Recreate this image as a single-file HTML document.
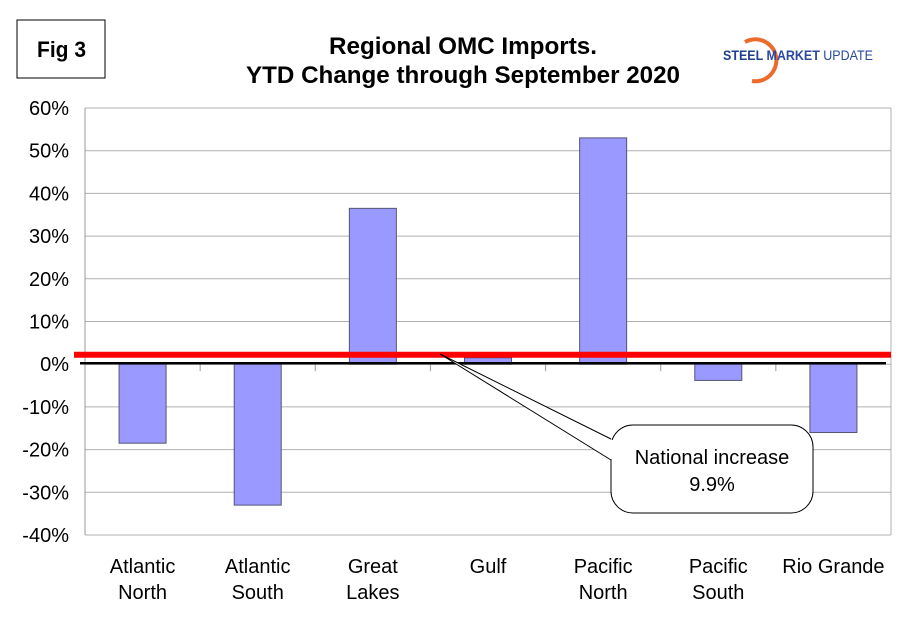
<!DOCTYPE html>
<html><head><meta charset="utf-8"><style>
body{margin:0;background:#fff;width:910px;height:622px;overflow:hidden;font-family:"Liberation Sans",Arial,sans-serif}
</style></head><body>
<svg id="chart" width="910" height="622" xmlns="http://www.w3.org/2000/svg" font-family="Liberation Sans, Arial, sans-serif">
<rect x="17" y="20" width="88" height="58" fill="#fff" stroke="#000" stroke-width="1"/>
<text x="37" y="57" font-size="22" font-weight="bold" textLength="49" lengthAdjust="spacingAndGlyphs">Fig 3</text>
<text x="329" y="54" font-size="24" font-weight="bold" textLength="268" lengthAdjust="spacingAndGlyphs">Regional OMC Imports.</text>
<text x="246" y="83" font-size="24" font-weight="bold" textLength="434" lengthAdjust="spacingAndGlyphs">YTD Change through September 2020</text>
<g>
<path d="M745 42 A21 21 0 1 1 752 81" fill="none" stroke="#ec6a2a" stroke-width="4"/>
<text x="723" y="60" font-size="14" font-weight="bold" fill="#1f3f8f" textLength="150" lengthAdjust="spacingAndGlyphs">STEEL <tspan fill="#2a4aa0">MARKET</tspan> <tspan font-weight="normal" fill="#2a4aa0">UPDATE</tspan></text>
</g>
<g id="grid"></g><g id="bars"></g><g id="axes"></g>
<g>
<rect x="611" y="425" width="202" height="88" rx="22" fill="#fff" stroke="#000" stroke-width="1"/>
<path d="M611 439 L440 354 L611 460" fill="#fff" stroke="#000"/>
<rect x="610" y="440" width="4" height="19" fill="#fff"/>
<text x="712" y="464" font-size="20" text-anchor="middle">National increase</text>
<text x="712" y="491" font-size="20" text-anchor="middle">9.9%</text>
</g>
</svg>
<script>
const categories=[["Atlantic","North"],["Atlantic","South"],["Great","Lakes"],["Gulf",""],["Pacific","North"],["Pacific","South"],["Rio Grande",""]];
const values=[-18.5,-33,36.5,1.5,53,-3.8,-16];
const ticks=[60,50,40,30,20,10,0,-10,-20,-30,-40];
const nationalLine=[2.2];
const NS="http://www.w3.org/2000/svg";
const L=85,R=891,T=108,B=535,ymax=60,ymin=-40;
const bw=(R-L)/categories.length;
const y=v=>T+(ymax-v)/(ymax-ymin)*(B-T);
const x=i=>L+bw*i;
function mk(tag,attrs,parent){const e=document.createElementNS(NS,tag);for(const k in attrs)e.setAttribute(k,attrs[k]);document.getElementById(parent).appendChild(e);return e;}
ticks.forEach(t=>{
 const g=mk('line',{x1:L,x2:R,y1:y(t),y2:y(t),stroke:'#b0b0b0','stroke-width':1},'grid');
 
 
 const tx=mk('text',{x:69,y:y(t)+7,'font-size':20,'text-anchor':'end'},'axes');
 tx.textContent=t+'%';
 
 
});
const ax=mk('line',{x1:L,x2:L,y1:T,y2:B,stroke:'#999','stroke-width':1},'grid');


mk('line',{x1:R,x2:R,y1:T,y2:B,stroke:'#b0b0b0','stroke-width':1},'grid');
values.forEach((v,i)=>{
 const cx=x(i)+bw/2;
 const r=mk('rect',{x:cx-23.5,y:Math.min(y(v),y(0)),width:47,height:Math.abs(y(v)-y(0)),fill:'#9999ff',stroke:'#555577','stroke-width':1},'bars');
 
 
 const lab=mk('text',{x:cx,y:573,'font-size':20,'text-anchor':'middle'},'axes');
 lab.innerHTML='<tspan x="'+cx+'">'+categories[i][0]+'</tspan><tspan x="'+cx+'" dy="26">'+categories[i][1]+'</tspan>';
 
 
 if(i>0){const tk=mk('line',{x1:x(i),x2:x(i),y1:y(0),y2:y(0)+7,stroke:'#999'},'axes');
 
 }
});
const z=mk('line',{x1:80,x2:R-5,y1:y(0)-1,y2:y(0)-1,stroke:'#000','stroke-width':2.5},'axes');


const red=mk('line',{x1:74,x2:R,y1:y(nationalLine[0]),y2:y(nationalLine[0]),stroke:'#ff0000','stroke-width':6},'axes');


</script>
</body></html>
